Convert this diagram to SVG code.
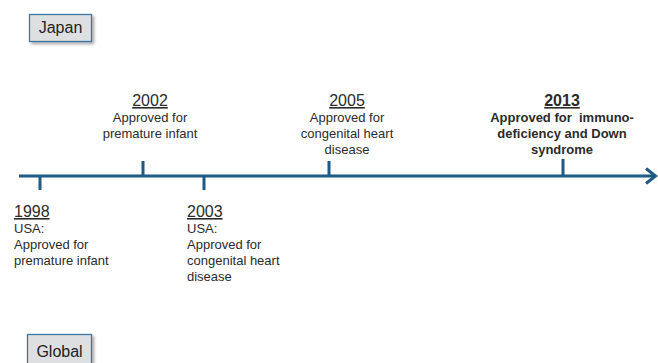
<svg xmlns="http://www.w3.org/2000/svg" width="658" height="363" viewBox="0 0 658 363">
  <style>
    text { font-family: "Liberation Sans", Arial, sans-serif; fill: #2b2b2b; }
    .year { font-size: 16px; text-decoration: underline; }
    .note { font-size: 13px; }
    .bold { font-weight: bold; }
    .mid { text-anchor: middle; }
    .pre { white-space: pre; }
    .label { font-size: 16px; text-anchor: middle; fill: #222; }
    .box { fill: #dedfe0; stroke: #3f74a0; stroke-width: 1.3; }
    .axis { stroke: #1d5a87; stroke-width: 3; fill: none; }
  </style>
  <defs>
    <filter id="shadow" x="-20%" y="-20%" width="150%" height="160%">
      <feDropShadow dx="2" dy="2" stdDeviation="1.5" flood-color="#000" flood-opacity="0.35"/>
    </filter>
  </defs>
  <rect width="658" height="363" fill="#fff"/>

  <!-- region labels -->
  <g id="japan">
    <rect class="box" x="29.5" y="14.5" width="62" height="27" filter="url(#shadow)"/>
    <text class="label" x="60.5" y="33">Japan</text>
  </g>
  <g id="global">
    <rect class="box" x="27.5" y="334.5" width="64" height="32" filter="url(#shadow)"/>
    <text class="label" x="59.5" y="357">Global</text>
  </g>

  <!-- timeline axis and ticks -->
  <g id="connectors">
    <line class="axis" x1="19" y1="176" x2="655" y2="176"/>
    <polyline class="axis" points="646,168.5 655.5,176 646,183.5" stroke-linejoin="miter"/>
    <line class="axis" x1="40" y1="176" x2="40" y2="190"/>
    <line class="axis" x1="143" y1="176" x2="143" y2="161"/>
    <line class="axis" x1="204" y1="176" x2="204" y2="190"/>
    <line class="axis" x1="329" y1="176" x2="329" y2="161"/>
    <line class="axis" x1="563" y1="176" x2="563" y2="159"/>
  </g>

  <!-- events above the axis (Japan) -->
  <g id="e2002">
    <text class="year mid" x="150" y="106">2002</text>
    <text class="note mid" x="150" y="121.5">Approved for</text>
    <text class="note mid" x="150" y="137.5">premature infant</text>
  </g>
  <g id="e2005">
    <text class="year mid" x="347" y="106">2005</text>
    <text class="note mid" x="347" y="121.5">Approved for</text>
    <text class="note mid" x="347" y="137.5">congenital heart</text>
    <text class="note mid" x="347" y="153.5">disease</text>
  </g>
  <g id="e2013">
    <text class="year bold mid" x="562" y="106">2013</text>
    <text class="note bold mid pre" x="562" y="121.5">Approved for  immuno-</text>
    <text class="note bold mid" x="562" y="137.5">deficiency and Down</text>
    <text class="note bold mid" x="562" y="153.5">syndrome</text>
  </g>

  <!-- events below the axis (Global) -->
  <g id="e1998">
    <text class="year" x="14" y="217">1998</text>
    <text class="note" x="14" y="232.5">USA:</text>
    <text class="note" x="14" y="248.5">Approved for</text>
    <text class="note" x="14" y="264.5">premature infant</text>
  </g>
  <g id="e2003">
    <text class="year" x="187" y="217">2003</text>
    <text class="note" x="187" y="232.5">USA:</text>
    <text class="note" x="187" y="248.5">Approved for</text>
    <text class="note" x="187" y="264.5">congenital heart</text>
    <text class="note" x="187" y="280.5">disease</text>
  </g>
</svg>
